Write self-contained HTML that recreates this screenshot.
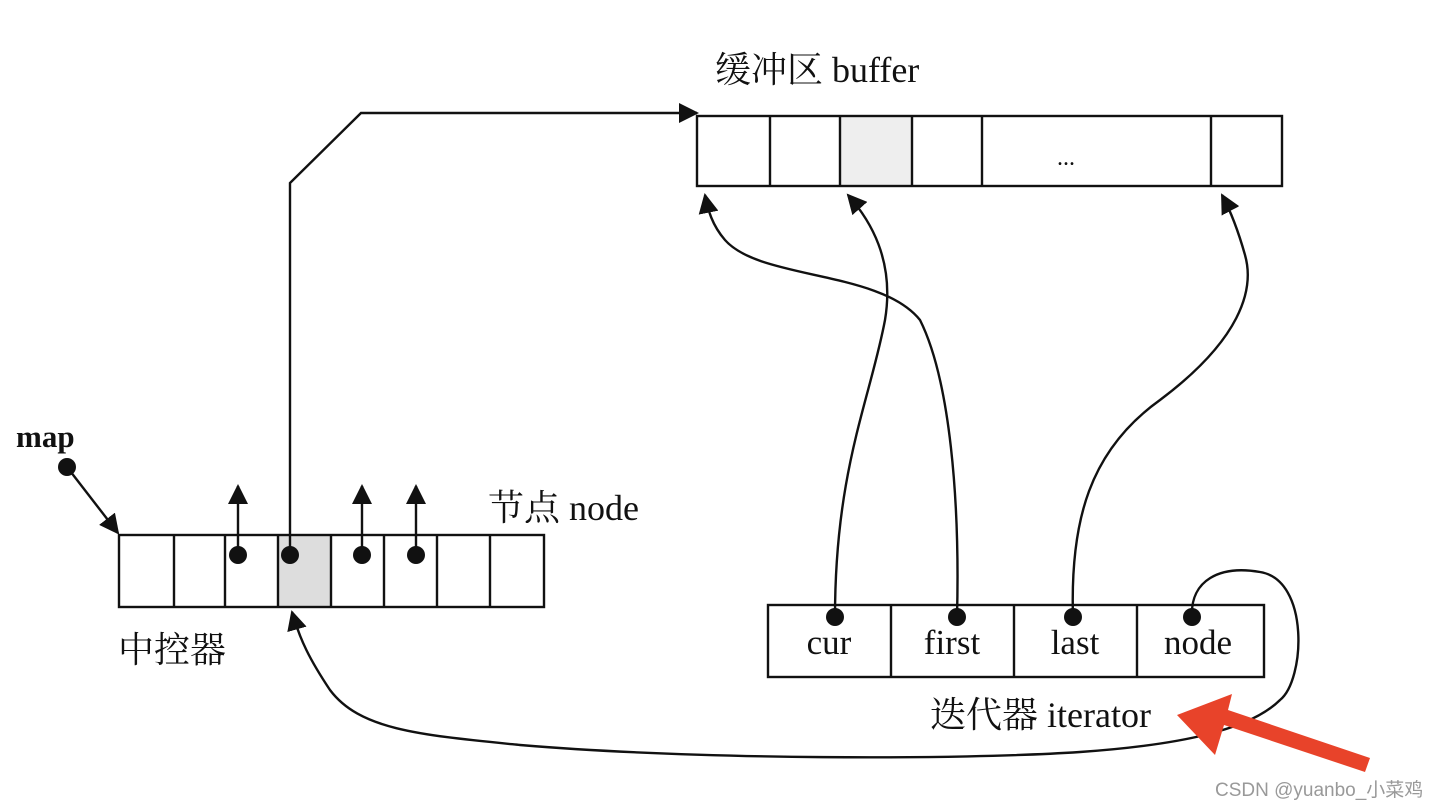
<!DOCTYPE html>
<html><head><meta charset="utf-8"><style>
html,body{margin:0;padding:0;background:#fff;width:1436px;height:806px;overflow:hidden}
text{font-family:"Liberation Serif","Noto Serif CJK SC",serif;fill:#111}
</style></head><body>
<svg width="1436" height="806" viewBox="0 0 1436 806" xmlns="http://www.w3.org/2000/svg">
<defs>
<marker id="b" viewBox="0 0 10 10" refX="9" refY="5" markerWidth="20" markerHeight="20" orient="auto" markerUnits="userSpaceOnUse"><path d="M0,0 L10,5 L0,10 z" fill="#111"/></marker>
</defs>
<g stroke="#111" stroke-width="2.4" fill="none">
<rect x="840" y="116" width="72" height="70" fill="#eee" stroke="none"/>
<rect x="697" y="116" width="585" height="70"/>
<path d="M770 116V186M840 116V186M912 116V186M982 116V186M1211 116V186"/>
<rect x="278" y="535" width="53" height="72" fill="#ddd" stroke="none"/>
<rect x="119" y="535" width="425" height="72"/>
<path d="M174 535V607M225 535V607M278 535V607M331 535V607M384 535V607M437 535V607M490 535V607"/>
<rect x="768" y="605" width="496" height="72"/>
<path d="M891 605V677M1014 605V677M1137 605V677"/>
<path d="M67 467 L118 533" marker-end="url(#b)"/>
<path d="M238 555V486" marker-end="url(#b)"/>
<path d="M362 555V486" marker-end="url(#b)"/>
<path d="M416 555V486" marker-end="url(#b)"/>
<path d="M290 555V183L361 113H697" marker-end="url(#b)"/>
<path d="M835 617 C835 470 870 400 885 320 C895 260 870 220 848 195" marker-end="url(#b)"/>
<path d="M957 617 C960 500 950 380 920 320 C880 270 760 280 725 240 C712 225 708 210 705 195" marker-end="url(#b)"/>
<path d="M1073 617 C1070 520 1090 450 1160 400 C1240 340 1255 290 1245 255 C1238 230 1230 210 1222 195" marker-end="url(#b)"/>
<path d="M1192 617 C1190 580 1220 565 1260 572 C1310 580 1305 680 1280 700 C1250 730 1180 745 1080 752 C960 760 700 760 520 745 C420 735 360 730 330 690 C310 660 300 640 292 612" marker-end="url(#b)"/>
</g>
<g fill="#111">
<circle cx="67" cy="467" r="9"/>
<circle cx="238" cy="555" r="9"/>
<circle cx="290" cy="555" r="9"/>
<circle cx="362" cy="555" r="9"/>
<circle cx="416" cy="555" r="9"/>
<circle cx="835" cy="617" r="9"/>
<circle cx="957" cy="617" r="9"/>
<circle cx="1073" cy="617" r="9"/>
<circle cx="1192" cy="617" r="9"/>
</g>
<polygon points="1177,715 1232,694 1228,710 1370,758 1365,772 1224,725 1215,755" fill="#e8432a"/>
<text x="16" y="447" font-size="31" font-weight="bold">map</text>
<text x="715" y="82" font-size="36">缓冲区 buffer</text>
<text x="1057" y="165" font-size="24">...</text>
<text x="488" y="520" font-size="36">节点 node</text>
<text x="118" y="662" font-size="36">中控器</text>
<text x="829" y="654" font-size="35" text-anchor="middle">cur</text>
<text x="952" y="654" font-size="35" text-anchor="middle">first</text>
<text x="1075" y="654" font-size="35" text-anchor="middle">last</text>
<text x="1198" y="654" font-size="35" text-anchor="middle">node</text>
<text x="930" y="727" font-size="36">迭代器 iterator</text>
<text x="1215" y="796" font-size="19" style="font-family:'Liberation Sans','Noto Sans CJK SC',sans-serif;fill:#999">CSDN @yuanbo_小菜鸡</text>
</svg>
</body></html>
